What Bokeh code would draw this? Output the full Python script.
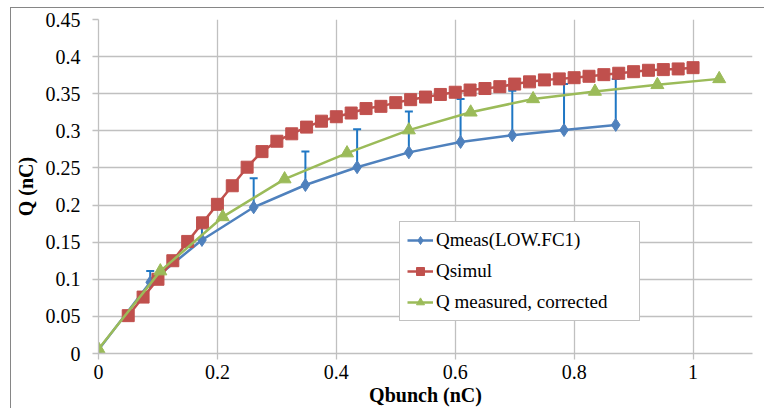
from bokeh.plotting import figure
from bokeh.models import (ColumnDataSource, FixedTicker, Whisker, TeeHead,
                          Legend, LegendItem, Range1d)
from bokeh.embed import file_html
from bokeh.resources import INLINE

# ---------------- data ----------------
meas_x = [0, 0.087, 0.174, 0.261, 0.348, 0.435, 0.522, 0.609, 0.696, 0.783, 0.870]
meas_y = [0.005, 0.096, 0.153, 0.197, 0.227, 0.251, 0.271, 0.285, 0.294, 0.301, 0.308]
meas_err_up = [0.0, 0.015, 0.029, 0.039, 0.045, 0.051, 0.055, 0.058, 0.060, 0.062, 0.062]

simul_x = [0.05, 0.075, 0.1, 0.125, 0.15, 0.175, 0.2, 0.225, 0.25, 0.275,
           0.3, 0.325, 0.35, 0.375, 0.4, 0.425, 0.45, 0.475, 0.5, 0.525,
           0.55, 0.575, 0.6, 0.625, 0.65, 0.675, 0.7, 0.725, 0.75, 0.775,
           0.8, 0.825, 0.85, 0.875, 0.9, 0.925, 0.95, 0.975, 1.0]
simul_y = [0.051, 0.076, 0.100, 0.125, 0.151, 0.176, 0.201, 0.226, 0.251, 0.272,
           0.286, 0.296, 0.305, 0.313, 0.319, 0.324, 0.330, 0.333, 0.338, 0.342,
           0.3455, 0.349, 0.352, 0.355, 0.357, 0.3595, 0.363, 0.366, 0.3686, 0.370,
           0.3716, 0.3735, 0.3757, 0.3776, 0.3797, 0.3816, 0.3825, 0.3834, 0.3851]

corr_x = [0, 0.104, 0.209, 0.313, 0.418, 0.522, 0.626, 0.731, 0.835, 0.940, 1.044]
corr_y = [0.006, 0.111, 0.184, 0.235, 0.270, 0.301, 0.325, 0.343, 0.353, 0.362, 0.370]

series_names = ["Qmeas(LOW.FC1)", "Qsimul", "Q measured, corrected"]

x_ticks = [0, 0.2, 0.4, 0.6, 0.8, 1.0]
x_tick_labels = ["0", "0.2", "0.4", "0.6", "0.8", "1"]
y_ticks = [0, 0.05, 0.1, 0.15, 0.2, 0.25, 0.3, 0.35, 0.4, 0.45]
y_tick_labels = ["0", "0.05", "0.1", "0.15", "0.2", "0.25", "0.3", "0.35", "0.4", "0.45"]

x_title = "Qbunch (nC)"
y_title = "Q (nC)"

# ---------------- styling ----------------
BLUE = "#4F81BD"
RED = "#C0504D"
GREEN = "#9BBB59"
ERR = "#1F77C4"
GRID = "#C0C0C0"
FONT = "Liberation Serif"

p = figure(width=754, height=401, output_backend="svg", toolbar_location=None,
           x_range=Range1d(0, 1.1), y_range=Range1d(0, 0.45),
           min_border_left=85, min_border_right=13, min_border_top=11,
           min_border_bottom=56)
p.styles = {"margin-left": "10px", "margin-top": "7px",
            "border-left": "1px solid #868686", "border-top": "1px solid #868686"}
p.outline_line_color = None
p.background_fill_color = "white"
p.border_fill_color = "white"

p.xaxis.ticker = FixedTicker(ticks=x_ticks)
p.yaxis.ticker = FixedTicker(ticks=y_ticks)
p.xaxis.major_label_overrides = dict(zip(x_ticks, x_tick_labels))
p.yaxis.major_label_overrides = dict(zip(y_ticks, y_tick_labels))

p.axis.axis_line_color = GRID
p.axis.axis_line_width = 1.3
p.axis.major_tick_line_color = GRID
p.axis.major_tick_line_width = 1.3
p.axis.major_tick_out = 6
p.axis.major_tick_in = 0
p.axis.minor_tick_line_color = None
p.axis.major_label_text_font = FONT
p.axis.major_label_text_font_size = "20px"
p.axis.major_label_text_color = "black"
p.axis.axis_label_text_font = FONT
p.axis.axis_label_text_font_size = "20px"
p.axis.axis_label_text_font_style = "bold"
p.axis.axis_label_text_color = "black"

p.xaxis.axis_label = x_title
p.yaxis.axis_label = y_title
p.xaxis.major_label_standoff = 5
p.xaxis.axis_label_standoff = 2
p.yaxis.major_label_standoff = 12
p.yaxis.axis_label_standoff = 6

p.xgrid.ticker = FixedTicker(ticks=x_ticks)
p.ygrid.ticker = FixedTicker(ticks=y_ticks)
p.grid.grid_line_color = GRID
p.grid.grid_line_width = 1.3

# ---------------- glyphs ----------------
src_meas = ColumnDataSource(dict(x=meas_x, y=meas_y,
                                 upper=[a + b for a, b in zip(meas_y, meas_err_up)]))
src_sim = ColumnDataSource(dict(x=simul_x, y=simul_y))
src_cor = ColumnDataSource(dict(x=corr_x, y=corr_y))

whisk = Whisker(source=src_meas, base="x", lower="y", upper="upper",
                line_color=ERR, line_width=2,
                upper_head=TeeHead(size=8, line_color=ERR, line_width=2),
                lower_head=None)
p.add_layout(whisk)

l1 = p.line("x", "y", source=src_meas, line_color=BLUE, line_width=2.5)
m1 = p.scatter("x", "y", source=src_meas, marker="diamond", size=13,
               fill_color=BLUE, line_color=BLUE)
l2 = p.line("x", "y", source=src_sim, line_color=RED, line_width=2.5)
m2 = p.scatter("x", "y", source=src_sim, marker="square", size=12,
               fill_color=RED, line_color=RED)
l3 = p.line("x", "y", source=src_cor, line_color=GREEN, line_width=2.5)
m3 = p.scatter("x", "y", source=src_cor, marker="triangle", size=13,
               fill_color=GREEN, line_color=GREEN)

legend = Legend(items=[
    LegendItem(label=series_names[0], renderers=[l1, m1]),
    LegendItem(label=series_names[1], renderers=[l2, m2]),
    LegendItem(label=series_names[2], renderers=[l3, m3]),
], location=(301, 32))
legend.label_text_font = FONT
legend.label_text_font_size = "19px"
legend.label_text_color = "black"
legend.border_line_color = "#868686"
legend.border_line_width = 1
legend.background_fill_alpha = 1
legend.glyph_width = 26
legend.glyph_height = 20
legend.label_height = 20
legend.label_width = 196
legend.label_standoff = 3
legend.spacing = 9
legend.padding = 7
legend.margin = 0
p.add_layout(legend)

open("out.html", "w").write(file_html(p, INLINE))
